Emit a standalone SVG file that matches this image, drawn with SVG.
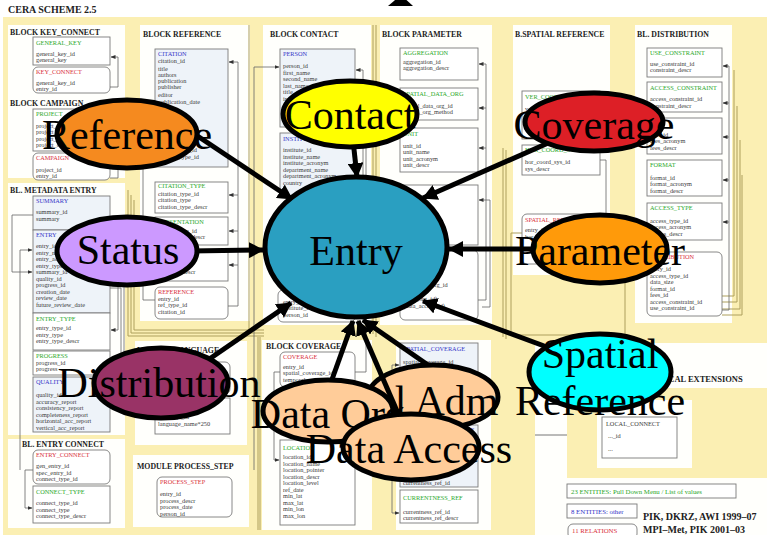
<svg xmlns="http://www.w3.org/2000/svg" width="767" height="535" viewBox="0 0 767 535">
<style>
.f{font-family:"Liberation Serif",serif;font-size:6.3px;fill:#3a3a3a}
.hd{font-family:"Liberation Serif",serif;font-size:7.8px;font-weight:bold;fill:#222}
.tg{font-family:"Liberation Serif",serif;font-size:6.3px;fill:#2aa82a}
.tr{font-family:"Liberation Serif",serif;font-size:6.3px;fill:#d9303a}
.tb{font-family:"Liberation Serif",serif;font-size:6.3px;fill:#3535c8}
.bx{fill:#fff;stroke:#7a7a7a;stroke-width:0.9}
.bb{fill:#eef3f9;stroke:#7a7a7a;stroke-width:0.9}
.pn{fill:#fffffc}
.ln{fill:none;stroke:#666;stroke-width:0.8}
.ol{fill:none;stroke:#ad9f5c;stroke-width:1}
.el{stroke:#000;stroke-width:5}
.big{font-family:"Liberation Serif",serif;font-size:42px;fill:#000;text-anchor:middle}
.arr{fill:none;stroke:#000;stroke-width:5;marker-end:url(#ah)}
</style>
<defs>
<marker id="ah" markerUnits="userSpaceOnUse" markerWidth="16" markerHeight="16" refX="14" refY="8" orient="auto"><path d="M0,0 L15,8 L0,16 z" fill="#000"/></marker>
<marker id="sa" markerUnits="userSpaceOnUse" markerWidth="5" markerHeight="5" refX="4.5" refY="2.5" orient="auto"><path d="M0,0.5 L5,2.5 L0,4.5 z" fill="#333"/></marker>
</defs>
<rect width="767" height="535" fill="#fff"/>
<g id="schema">
<rect x="3" y="17" width="764" height="518" fill="#fbefb3"/>
<text x="8" y="13" style="font-family:'Liberation Serif',serif;font-size:10px;font-weight:bold;fill:#222">CERA SCHEME 2.5</text>
<rect class="pn" x="8" y="25" width="117" height="153"/>
<rect class="pn" x="8" y="183" width="117" height="252"/>
<rect class="pn" x="8" y="439" width="117" height="89"/>
<rect class="pn" x="140" y="25" width="110" height="296"/>
<rect class="pn" x="135" y="341" width="112" height="104"/>
<rect class="pn" x="133" y="455" width="116" height="72"/>
<rect class="pn" x="263" y="25" width="108" height="300"/>
<rect class="pn" x="262" y="340" width="110" height="190"/>
<rect class="pn" x="380" y="25" width="112" height="300"/>
<rect class="pn" x="396" y="340" width="95" height="190"/>
<rect class="pn" x="513" y="25" width="97" height="250"/>
<rect class="pn" x="635" y="25" width="97" height="298"/>
<rect class="pn" x="535" y="343" width="232" height="192"/>
<rect x="567" y="388" width="200" height="90" fill="#fbefb3"/>
<rect class="pn" x="597" y="400" width="95" height="68"/>
<path class="ol" d="M128,190 V336 H264 M131,195 V333 H264 M134,200 V330 H264 M249,25 V330 M376,25 V337 M373,25 V334 M503,148 V337 M506,150 V339 M260,337 V530 M258,337 V530"/>
<path class="ol" d="M511,233 H625 V335 H511 Z"/>
<path class="ol" d="M722,296 H734 V70 M722,302 H737 V106 M722,309 H740 V140 M722,315 H742 V175"/>
<path d="M535,435 H567" stroke="#777" stroke-width="1"/>
<text class="hd" x="10" y="35">BLOCK KEY_CONNECT</text>
<rect class="bx" x="33" y="37" width="77" height="28"/>
<text class="tg" x="36" y="45">GENERAL_KEY</text>
<text class="f" x="36" y="56">general_key_id<tspan x="36" dy="6.3">general_key</tspan></text>
<rect class="bx" x="33" y="67" width="77" height="26" rx="5"/>
<text class="tr" x="36" y="74">KEY_CONNECT</text>
<text class="f" x="36" y="85">general_key_id<tspan x="36" dy="6.3">entry_id</tspan></text>
<text class="hd" x="10" y="106">BLOCK CAMPAIGN</text>
<rect class="bx" x="33" y="109" width="77" height="42"/>
<text class="tg" x="36" y="116">PROJECT</text>
<text class="f" x="36" y="128">project_id<tspan x="36" dy="6.3">project_name</tspan><tspan x="36" dy="6.3">project_acronym</tspan><tspan x="36" dy="6.3">project_descr</tspan></text>
<rect class="bx" x="33" y="153" width="77" height="27" rx="5"/>
<text class="tr" x="36" y="160">CAMPAIGN</text>
<text class="f" x="36" y="172">project_id<tspan x="36" dy="6.3">entry_id</tspan></text>
<text class="hd" x="10" y="193">BL. METADATA ENTRY</text>
<rect class="bb" x="33" y="196" width="77" height="34"/>
<text class="tb" x="36" y="203">SUMMARY</text>
<text class="f" x="36" y="214">summary_id<tspan x="36" dy="6.5">summary</tspan></text>
<rect class="bb" x="33" y="230" width="77" height="83"/>
<text class="tb" x="36" y="237">ENTRY</text>
<text class="f" x="36" y="248">entry_id<tspan x="36" dy="6.5">entry_name</tspan><tspan x="36" dy="6.5">entry_acronym</tspan><tspan x="36" dy="6.5">entry_type_id</tspan><tspan x="36" dy="6.5">summary_id</tspan><tspan x="36" dy="6.5">quality_id</tspan><tspan x="36" dy="6.5">progress_id</tspan><tspan x="36" dy="6.5">creation_date</tspan><tspan x="36" dy="6.5">review_date</tspan><tspan x="36" dy="6.5">future_review_date</tspan></text>
<rect class="bx" x="33" y="313" width="77" height="37"/>
<text class="tg" x="36" y="321">ENTRY_TYPE</text>
<text class="f" x="36" y="330">entry_type_id<tspan x="36" dy="6.5">entry_type</tspan><tspan x="36" dy="6.5">entry_type_descr</tspan></text>
<rect class="bx" x="33" y="351" width="77" height="24"/>
<text class="tg" x="36" y="358">PROGRESS</text>
<text class="f" x="36" y="365">progress_id<tspan x="36" dy="6">progress</tspan></text>
<rect class="bb" x="33" y="377" width="77" height="55"/>
<text class="tb" x="36" y="384">QUALITY</text>
<text class="f" x="36" y="397">quality_id<tspan x="36" dy="6.5">accuracy_report</tspan><tspan x="36" dy="6.5">consistency_report</tspan><tspan x="36" dy="6.5">completeness_report</tspan><tspan x="36" dy="6.5">horizontal_acc_report</tspan><tspan x="36" dy="6.5">vertical_acc_report</tspan></text>
<text class="hd" x="22" y="447">BL. ENTRY CONNECT</text>
<rect class="bx" x="33" y="450" width="77" height="34" rx="5"/>
<text class="tr" x="36" y="457">ENTRY_CONNECT</text>
<text class="f" x="36" y="468">gen_entry_id<tspan x="36" dy="6.5">spec_entry_id</tspan><tspan x="36" dy="6.5">connect_type_id</tspan></text>
<rect class="bx" x="33" y="486" width="77" height="37"/>
<text class="tg" x="36" y="494">CONNECT_TYPE</text>
<text class="f" x="36" y="505">connect_type_id<tspan x="36" dy="6.5">connect_type</tspan><tspan x="36" dy="6.5">connect_type_descr</tspan></text>
<text class="hd" x="143" y="37">BLOCK REFERENCE</text>
<rect class="bb" x="155" y="49" width="73" height="118"/>
<text class="tb" x="158" y="56">CITATION</text>
<text class="f" x="158" y="63">citation_id<tspan x="158" dy="7.5">title</tspan><tspan x="158" dy="6.3">authors</tspan><tspan x="158" dy="6.3">publication</tspan><tspan x="158" dy="6.3">publisher</tspan><tspan x="158" dy="8">editor</tspan><tspan x="158" dy="6.3">publication_date</tspan></text>
<text class="f" x="158" y="152">presentation_id<tspan x="158" dy="7">citation_type_id</tspan></text>
<rect class="bx" x="155" y="182" width="73" height="31"/>
<text class="tg" x="158" y="188">CITATION_TYPE</text>
<text class="f" x="158" y="196">citation_type_id<tspan x="158" dy="6.3">citation_type</tspan><tspan x="158" dy="6.3">citation_type_descr</tspan></text>
<rect class="bx" x="155" y="217" width="73" height="28"/>
<text class="tg" x="158" y="224">PRESENTATION</text>
<text class="f" x="158" y="233">presentation_id<tspan x="158" dy="6.3">presentation_descr</tspan></text>
<rect class="bx" x="155" y="250" width="73" height="31"/>
<text class="tg" x="158" y="257">REF_TYPE</text>
<text class="f" x="158" y="267">ref_type_id<tspan x="158" dy="6.5">ref_type_descr</tspan></text>
<rect class="bx" x="155" y="287" width="73" height="32" rx="5"/>
<text class="tr" x="158" y="294">REFERENCE</text>
<text class="f" x="158" y="301">entry_id<tspan x="158" dy="6.3">ref_type_id</tspan><tspan x="158" dy="6.3">citation_id</tspan></text>
<text class="hd" x="137" y="353">MODULE LANGUAGE</text>
<rect class="bx" x="155" y="362" width="75" height="32" rx="5"/>
<rect class="bx" x="155" y="398" width="75" height="36"/>
<text class="f" x="158" y="419">language_id<tspan x="158" dy="7">language_name*250</tspan></text>
<text class="hd" x="137" y="469">MODULE PROCESS_STEP</text>
<rect class="bx" x="157" y="477" width="75" height="40" rx="5"/>
<text class="tr" x="160" y="484">PROCESS_STEP</text>
<text class="f" x="160" y="496">entry_id<tspan x="160" dy="6.5">process_descr</tspan><tspan x="160" dy="6.5">process_date</tspan><tspan x="160" dy="6.5">person_id</tspan></text>
<text class="hd" x="270" y="37">BLOCK CONTACT</text>
<rect class="bb" x="280" y="49" width="75" height="78"/>
<text class="tb" x="283" y="56">PERSON</text>
<text class="f" x="283" y="68">person_id<tspan x="283" dy="6.5">first_name</tspan><tspan x="283" dy="6.5">second_name</tspan><tspan x="283" dy="6.5">last_name</tspan><tspan x="283" dy="6.5">title</tspan><tspan x="283" dy="6.5">institute_id</tspan><tspan x="283" dy="6.5">email</tspan><tspan x="283" dy="6.5">phone</tspan></text>
<rect class="bb" x="280" y="133" width="75" height="64"/>
<text class="tb" x="283" y="141">INSTITUTE</text>
<text class="f" x="283" y="152">institute_id<tspan x="283" dy="6.5">institute_name</tspan><tspan x="283" dy="6.5">institute_acronym</tspan><tspan x="283" dy="6.5">department_name</tspan><tspan x="283" dy="6.5">department_acronym</tspan><tspan x="283" dy="6.5">country</tspan></text>
<rect class="bx" x="278" y="290" width="77" height="32" rx="5"/>
<text class="f" x="283" y="304">entry_id<tspan x="283" dy="6.3">institute_id</tspan><tspan x="283" dy="6.3">person_id</tspan></text>
<text class="hd" x="266" y="349">BLOCK COVERAGE</text>
<rect class="bx" x="280" y="352" width="75" height="35" rx="5"/>
<text class="tr" x="283" y="359">COVERAGE</text>
<text class="f" x="283" y="369">entry_id<tspan x="283" dy="6.3">spatial_coverage_id</tspan><tspan x="283" dy="6.3">temporal_coverage_id</tspan></text>
<rect class="bx" x="280" y="440" width="75" height="85"/>
<text class="tg" x="283" y="450">LOCATION</text>
<text class="f" x="283" y="459">location_id<tspan x="283" dy="6.5">location_name</tspan><tspan x="283" dy="6.5">location_pointer</tspan><tspan x="283" dy="6.5">location_descr</tspan><tspan x="283" dy="6.5">location_level</tspan><tspan x="283" dy="6.5">ref_date</tspan><tspan x="283" dy="6.5">min_lat</tspan><tspan x="283" dy="6.5">max_lat</tspan><tspan x="283" dy="6.5">min_lon</tspan><tspan x="283" dy="6.5">max_lon</tspan></text>
<text class="hd" x="382" y="37">BLOCK PARAMETER</text>
<rect class="bx" x="400" y="48" width="78" height="32"/>
<text class="tg" x="403" y="55">AGGREGATION</text>
<text class="f" x="403" y="64">aggregation_id<tspan x="403" dy="6.3">aggregation_descr</tspan></text>
<rect class="bx" x="400" y="88" width="78" height="32"/>
<text class="tg" x="403" y="96">SPATIAL_DATA_ORG</text>
<text class="f" x="403" y="108">spatial_data_org_id<tspan x="403" dy="6.3">spatial_org_method</tspan></text>
<rect class="bx" x="400" y="128" width="78" height="44"/>
<text class="tg" x="403" y="136">UNIT</text>
<text class="f" x="403" y="148">unit_id<tspan x="403" dy="6.3">unit_name</tspan><tspan x="403" dy="6.3">unit_acronym</tspan><tspan x="403" dy="6.3">unit_descr</tspan></text>
<rect class="bx" x="400" y="185" width="78" height="60"/>
<rect class="bx" x="400" y="250" width="78" height="70" rx="5"/>
<text class="f" x="403" y="287">parameter_org_id<tspan x="403" dy="7">param_id</tspan><tspan x="403" dy="7">(data_org_id)</tspan><tspan x="403" dy="7">(data_access_id)</tspan></text>
<rect class="bb" x="400" y="343" width="78" height="78"/>
<text class="tb" x="403" y="351">SPATIAL_COVERAGE</text>
<text class="f" x="403" y="364">spatial_coverage_id</text>
<rect class="bb" x="400" y="425" width="78" height="62"/>
<text class="tb" x="403" y="432">TEMPORAL_COVERAGE</text>
<text class="f" x="403" y="485">currentness_ref_id</text>
<rect class="bx" x="400" y="490" width="78" height="33"/>
<text class="tg" x="403" y="500">CURRENTNESS_REF</text>
<text class="f" x="403" y="514">currentness_ref_id<tspan x="403" dy="6.3">currentness_ref_descr</tspan></text>
<text class="hd" x="515" y="37">B.SPATIAL REFERENCE</text>
<rect class="bx" x="522" y="91" width="78" height="48"/>
<text class="tg" x="525" y="99">VER_COORD_SYS</text>
<text class="f" x="525" y="111">ver_coord_sys_id<tspan x="525" dy="6.3">ver_sys_descr</tspan></text>
<rect class="bx" x="522" y="145" width="78" height="30"/>
<text class="tg" x="525" y="152">HOR_COORD_SYS</text>
<text class="f" x="525" y="164">hor_coord_sys_id<tspan x="525" dy="6.5">sys_descr</tspan></text>
<rect class="bx" x="522" y="214" width="78" height="50" rx="5"/>
<text class="tr" x="525" y="222">SPATIAL_REF</text>
<text class="f" x="525" y="232">entry_id<tspan x="525" dy="6.5">hor_coord_sys_id</tspan></text>
<text class="hd" x="637" y="37">BL. DISTRIBUTION</text>
<rect class="bx" x="647" y="48" width="75" height="29"/>
<text class="tg" x="650" y="55">USE_CONSTRAINT</text>
<text class="f" x="650" y="66">use_constraint_id<tspan x="650" dy="6.3">constraint_descr</tspan></text>
<rect class="bx" x="647" y="82" width="75" height="30"/>
<text class="tg" x="650" y="90">ACCESS_CONSTRAINT</text>
<text class="f" x="650" y="101">access_constraint_id<tspan x="650" dy="6.5">constraint_descr</tspan></text>
<rect class="bx" x="647" y="118" width="75" height="36"/>
<text class="tg" x="650" y="126">FEES</text>
<text class="f" x="650" y="137">fees_id<tspan x="650" dy="6.3">fees_acronym</tspan><tspan x="650" dy="6.3">fees_descr</tspan></text>
<rect class="bx" x="647" y="160" width="75" height="36"/>
<text class="tg" x="650" y="167">FORMAT</text>
<text class="f" x="650" y="180">format_id<tspan x="650" dy="6.3">format_acronym</tspan><tspan x="650" dy="6.3">format_descr</tspan></text>
<rect class="bx" x="647" y="203" width="75" height="37"/>
<text class="tg" x="650" y="210">ACCESS_TYPE</text>
<text class="f" x="650" y="223">access_type_id<tspan x="650" dy="6.3">access_acronym</tspan><tspan x="650" dy="6.3">access_descr</tspan></text>
<rect class="bx" x="647" y="252" width="75" height="64" rx="5"/>
<text class="tr" x="650" y="259">DISTRIBUTION</text>
<text class="f" x="650" y="271">entry_id<tspan x="650" dy="6.5">access_type_id</tspan><tspan x="650" dy="6.5">data_size</tspan><tspan x="650" dy="6.5">format_id</tspan><tspan x="650" dy="6.5">fees_id</tspan><tspan x="650" dy="6.5">access_constraint_id</tspan><tspan x="650" dy="6.5">use_constraint_id</tspan></text>
<text class="hd" x="656" y="382" style="font-size:8.5px">LOCAL EXTENSIONS</text>
<rect class="bx" x="602" y="417" width="75" height="41"/>
<text class="f" x="606" y="426">LOCAL_CONNECT</text>
<text class="f" x="608" y="438">..._id</text>
<text class="f" x="608" y="451">...</text>
<rect class="bx" x="567" y="484" width="169" height="14"/>
<text class="tg" x="571" y="494" style="font-size:6.8px">23 ENTITIES: Pull Down Menu / List of values</text>
<rect class="bx" x="567" y="504" width="70" height="14"/>
<text class="tb" x="571" y="514" style="font-size:6.8px">8 ENTITIES: other</text>
<rect class="bx" x="568" y="524" width="69" height="15" rx="5"/>
<text class="tr" x="572" y="533" style="font-size:6.8px">11 RELATIONS</text>
<text x="643" y="520" style="font-family:'Liberation Serif',serif;font-size:10px;font-weight:bold;fill:#222">PIK, DKRZ, AWI  1999–07</text>
<text x="643" y="533" style="font-family:'Liberation Serif',serif;font-size:10px;font-weight:bold;fill:#222">MPI–Met, PIK  2001–03</text>
<path class="ln" marker-end="url(#sa)" d="M110,87 H118 V57 H111"/>
<path class="ln" marker-end="url(#sa)" d="M110,178 H118 V130 H111"/>
<path class="ln" marker-end="url(#sa)" d="M33,215 H12 V272 H32"/>
<path class="ln" marker-end="url(#sa)" d="M20,470 V250 H32"/>
<path class="ln" marker-end="url(#sa)" d="M33,470 H25 V508 H32"/>
<path class="ln" marker-end="url(#sa)" d="M110,268 H118 V330 H111"/>
<path class="ln" marker-end="url(#sa)" d="M110,288 H121 V365 H111"/>
<path class="ln" marker-end="url(#sa)" d="M110,281 H124 V400 H111"/>
<path class="ln" marker-end="url(#sa)" d="M228,306 H238 V62 H229"/>
<path class="ln" marker-end="url(#sa)" d="M238,195 H229"/>
<path class="ln" marker-end="url(#sa)" d="M238,231 H229"/>
<path class="ln" marker-end="url(#sa)" d="M238,265 H229"/>
<path class="ln" d="M155,300 H143 V150 H155"/>
<path class="ln" marker-end="url(#sa)" d="M254,470 V67 H279"/>
<path class="ln" marker-end="url(#sa)" d="M355,312 H363 V70 H356"/>
<path class="ln" marker-end="url(#sa)" d="M355,372 H366 V140 H356"/>
<path class="ln" marker-end="url(#sa)" d="M280,372 H274 V460 H279"/>
<path class="ln" marker-end="url(#sa)" d="M478,300 H486 V64 H479"/>
<path class="ln" marker-end="url(#sa)" d="M486,108 H479"/>
<path class="ln" marker-end="url(#sa)" d="M486,148 H479"/>
<path class="ln" marker-end="url(#sa)" d="M482,307 H490 V200 H479"/>
<path class="ln" marker-end="url(#sa)" d="M392,513 V365 H399"/>
<path class="ln" marker-end="url(#sa)" d="M392,513 H399"/>
<path class="ln" marker-end="url(#sa)" d="M722,310 H729 V66 H723"/>
<path class="ln" marker-end="url(#sa)" d="M729,103 H723"/>
<path class="ln" marker-end="url(#sa)" d="M729,137 H723"/>
<path class="ln" marker-end="url(#sa)" d="M729,180 H723"/>
<path class="ln" marker-end="url(#sa)" d="M729,222 H723"/>
<path class="ln" d="M600,160 H606 V240 H600"/>
</g>
<polygon points="388,6 413,6 401,-5" fill="#000"/>
<g id="entry">
<ellipse class="el" cx="356" cy="247" rx="91" ry="70" fill="#2a9fc1"/>
<text class="big" x="356" y="265">Entry</text>
</g>
<g id="admin">
<ellipse class="el" cx="433" cy="397" rx="65" ry="32" fill="#ffcc99"/>
<text class="big" x="376" y="415" style="text-anchor:start">al Adm</text>
</g>
<g id="connectors">
<path class="arr" d="M190,131 L292,199"/>
<path class="arr" d="M353,140 L357,177"/>
<path class="arr" d="M555,140 L423,198"/>
<path class="arr" d="M190,251 L263,250"/>
<path class="arr" d="M540,249 L449,249"/>
<path class="arr" d="M205,362 L291,303"/>
<path class="arr" d="M555,350 L423,301"/>
<path class="arr" d="M330,385 L353,321"/>
<path class="arr" d="M400,418 L358,321"/>
<path class="arr" d="M428,365 L363,320"/>
</g>
<g id="reference">
<ellipse class="el" cx="127" cy="134" rx="70" ry="34" fill="#f58a1f"/>
<text class="big" x="127" y="149">Reference</text>
</g>
<g id="contact">
<ellipse class="el" cx="350" cy="114" rx="67" ry="33" fill="#ffff00"/>
<text class="big" x="350" y="129">Contact</text>
</g>
<g id="coverage">
<ellipse class="el" cx="594" cy="122" rx="69" ry="29" fill="#dd1f26"/>
<text class="big" x="594" y="139">Coverage</text>
</g>
<g id="status">
<ellipse class="el" cx="127" cy="251" rx="70" ry="34" fill="#cc99ff"/>
<text class="big" x="128" y="264">Status</text>
</g>
<g id="parameter">
<ellipse class="el" cx="600" cy="249" rx="67" ry="34" fill="#ff9a0a"/>
<text class="big" x="600" y="265">Parameter</text>
</g>
<g id="distribution">
<ellipse class="el" cx="161" cy="383" rx="67" ry="35" fill="#993366"/>
<text class="big" x="159" y="397">Distribution</text>
</g>
<g id="spatial">
<ellipse class="el" cx="600" cy="372" rx="71" ry="38" fill="#00ffff"/>
<text class="big" x="600" y="368">Spatial</text>
<text class="big" x="600" y="415">Reference</text>
</g>
<g id="dataorg">
<ellipse class="el" cx="328" cy="411" rx="65" ry="31" fill="#ffcc99"/>
<text class="big" x="328" y="428">Data Org</text>
</g>
<g id="dataaccess">
<ellipse class="el" cx="411" cy="447" rx="68" ry="33" fill="#ffcc99"/>
<text class="big" x="409" y="463">Data Access</text>
</g>
</svg>
